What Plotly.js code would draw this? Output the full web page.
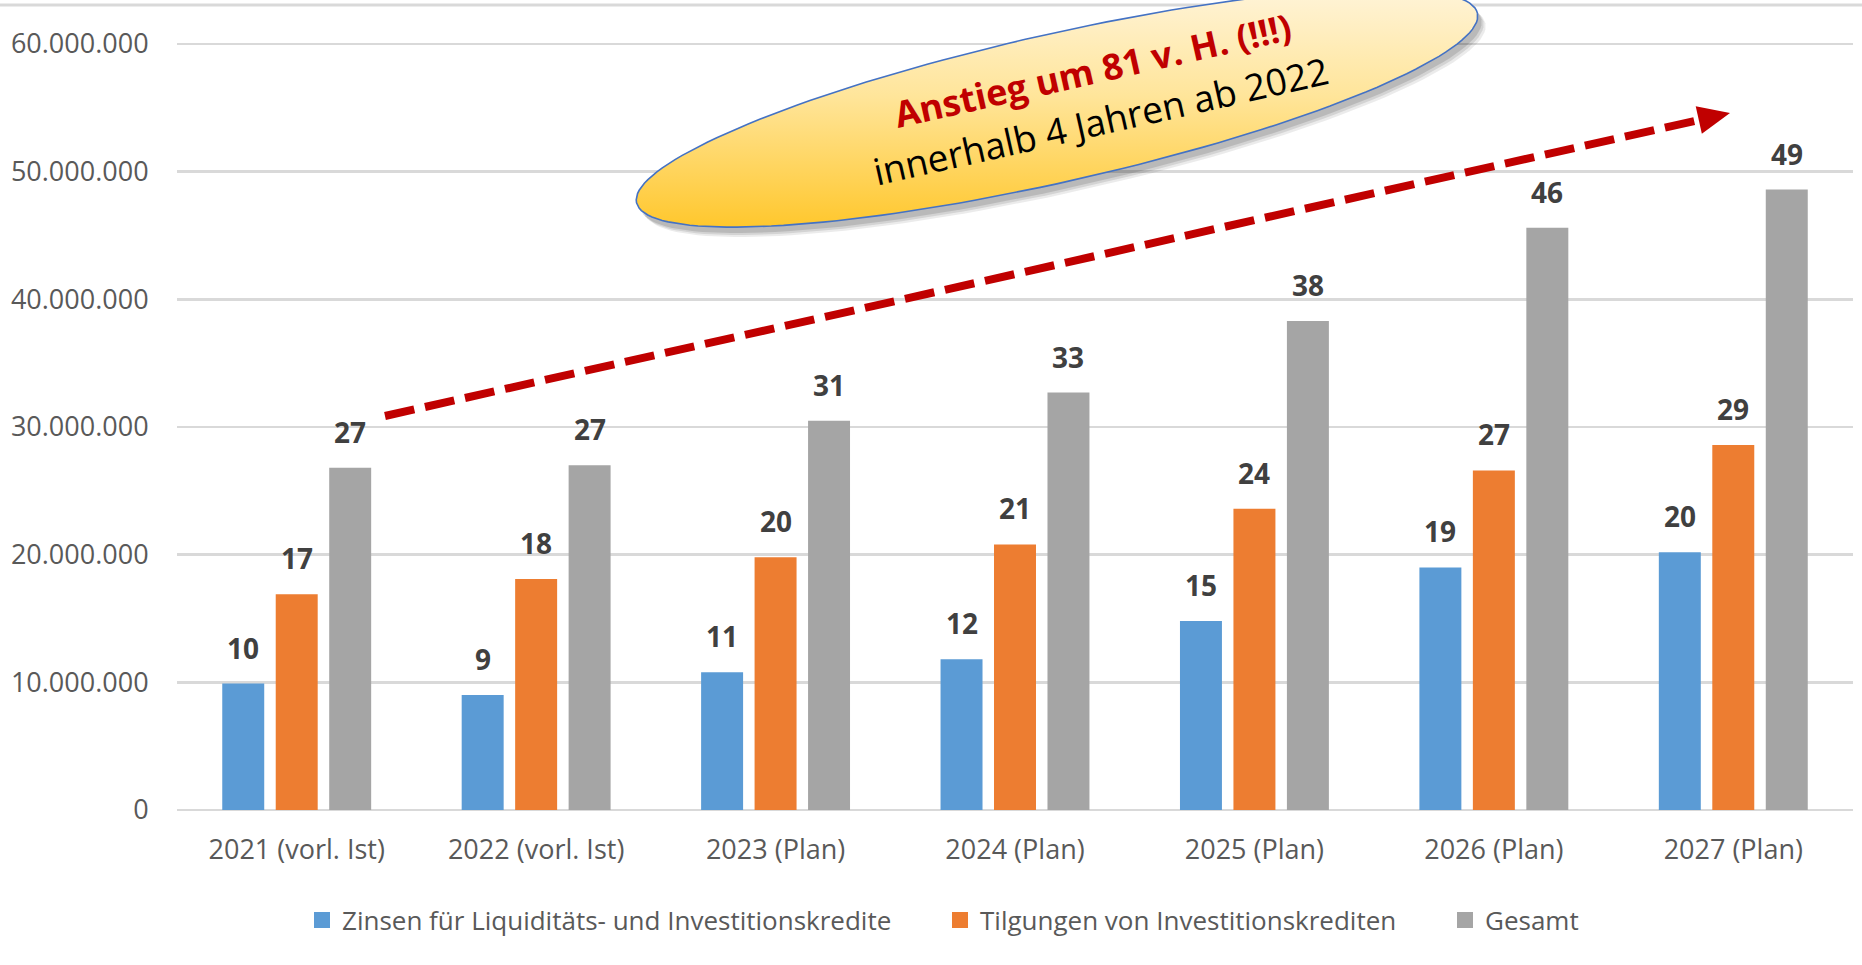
<!DOCTYPE html>
<html><head><meta charset="utf-8">
<script src="https://cdn.plot.ly/plotly-3.0.1.min.js"></script>
<style>html,body{margin:0;padding:0;background:#fff;overflow:hidden}</style>
</head><body><div id="chart" style="width:1862px;height:965px"></div>
<script>
// ---------- data ----------
const categories = ['2021 (vorl. Ist)', '2022 (vorl. Ist)', '2023 (Plan)', '2024 (Plan)', '2025 (Plan)', '2026 (Plan)', '2027 (Plan)'];
const seriesNames = ['Zinsen für Liquiditäts- und Investitionskredite', 'Tilgungen von Investitionskrediten', 'Gesamt'];
const zinsen    = [9900000, 9000000, 10800000, 11800000, 14800000, 19000000, 20200000];
const tilgungen = [16900000, 18100000, 19800000, 20800000, 23600000, 26600000, 28600000];
const gesamt    = [26800000, 27000000, 30500000, 32700000, 38300000, 45600000, 48600000];
const yTickValues = [0, 10000000, 20000000, 30000000, 40000000, 50000000, 60000000];
const calloutLine1 = 'Anstieg um 81 v. H. (!!!)';
const calloutLine2 = 'innerhalb 4 Jahren ab 2022';

// ---------- style / layout constants ----------
const W = 1862, H = 965;
const M = {l: 177, r: 9, t: 0, b: 155};
const PW = W - M.l - M.r, PH = H - M.t - M.b;
const colors = ['#5b9bd5', '#ed7d31', '#a5a5a5'];
const FONT = 'Open Sans';
const BARGAP = 0.33, BARGROUPGAP = 0.215;
const series = [zinsen, tilgungen, gesamt];
const legendIds = ['legend', 'legend2', 'legend3'];

// bars
const traces = series.map((vals, s) => ({
  type: 'bar', x: categories, y: vals, name: seriesNames[s],
  marker: {color: colors[s]}, hoverinfo: 'skip', showlegend: false
}));
// legend entries (square swatches like the original)
series.forEach((vals, s) => traces.push({
  type: 'scatter', mode: 'markers', x: [null], y: [null], name: seriesNames[s],
  marker: {color: colors[s], symbol: 'square', size: 16}, legend: legendIds[s],
  showlegend: true, hoverinfo: 'skip'
}));

// pixel-space overlay helpers (x2/y2 map 1:1 to page pixels)
function ellipsePts(cx, cy, a, b, deg) {
  const t = deg * Math.PI / 180, xs = [], ys = [];
  for (let i = 0; i <= 160; i++) {
    const p = 2 * Math.PI * i / 160;
    const ex = a * Math.cos(p), ey = b * Math.sin(p);
    xs.push(cx + ex * Math.cos(t) + ey * Math.sin(t));
    ys.push(cy - ex * Math.sin(t) + ey * Math.cos(t));
  }
  return {xs, ys};
}
const ELL = {cx: 1057, cy: 108, a: 431, b: 74, ang: 12.7};
[[8, 10, 0.08], [6, 8, 0.10], [4, 6, 0.12]].forEach(([dx, dy, op]) => {
  const e = ellipsePts(ELL.cx + dx, ELL.cy + dy, ELL.a, ELL.b, ELL.ang);
  traces.push({type: 'scatter', mode: 'lines', x: e.xs, y: e.ys, xaxis: 'x2', yaxis: 'y2',
    fill: 'toself', fillcolor: 'rgba(0,0,0,' + op + ')', line: {width: 0},
    showlegend: false, hoverinfo: 'skip'});
});
const e0 = ellipsePts(ELL.cx, ELL.cy, ELL.a, ELL.b, ELL.ang);
traces.push({type: 'scatter', mode: 'lines', x: e0.xs, y: e0.ys, xaxis: 'x2', yaxis: 'y2',
  fill: 'toself',
  fillgradient: {type: 'vertical', start: ELL.cy - 120, stop: ELL.cy + 120,
    colorscale: [[0, '#fff4d9'], [0.45, '#ffe59a'], [1, '#ffc72c']]},
  line: {color: '#4472c4', width: 1.6},
  showlegend: false, hoverinfo: 'skip'});

// arrow geometry (pixels)
const A0 = [385, 416], TIP = [1730, 113];
const len = Math.hypot(TIP[0] - A0[0], TIP[1] - A0[1]);
const d = [(TIP[0] - A0[0]) / len, (TIP[1] - A0[1]) / len];
const nrm = [-d[1], d[0]];
const HL = 32, HW = 14;
const base = [TIP[0] - HL * d[0], TIP[1] - HL * d[1]];
const b1 = [base[0] + HW * nrm[0], base[1] + HW * nrm[1]];
const b2 = [base[0] - HW * nrm[0], base[1] - HW * nrm[1]];

const shapes = [
  {type: 'line', xref: 'paper', yref: 'paper', x0: -M.l / PW, x1: 1 + M.r / PW, y0: 1 - 5 / PH, y1: 1 - 5 / PH,
   line: {color: '#d9d9d9', width: 3}, layer: 'below'},
  {type: 'line', xref: 'x2', yref: 'y2', x0: A0[0], y0: A0[1], x1: base[0], y1: base[1],
   line: {color: '#c00000', width: 8, dash: '30px,11px'}},
  {type: 'path', xref: 'x2', yref: 'y2',
   path: `M${TIP[0]},${TIP[1]} L${b1[0]},${b1[1]} L${b2[0]},${b2[1]} Z`,
   fillcolor: '#c00000', line: {width: 0}}
];

// data labels
const slot = (1 - BARGAP) / 3;
const annotations = [];
series.forEach((vals, s) => vals.forEach((v, i) => {
  annotations.push({x: i + (s - 1) * slot, y: v, xref: 'x', yref: 'y',
    text: String(Math.round(v / 1e6)), showarrow: false, yanchor: 'bottom', yshift: 15,
    font: {family: FONT, size: 28, color: '#404040', weight: 700}});
}));
annotations.push({x: 1092, y: 70, xref: 'x2', yref: 'y2', text: calloutLine1, showarrow: false,
  textangle: -ELL.ang, font: {family: FONT, size: 36, color: '#c00000', weight: 700}});
annotations.push({x: 1100, y: 120, xref: 'x2', yref: 'y2', text: calloutLine2, showarrow: false,
  textangle: -ELL.ang, font: {family: FONT, size: 37, color: '#000000'}});

const legendBase = {orientation: 'h', xref: 'container', yref: 'container', xanchor: 'left', yanchor: 'middle',
  y: 1 - 920 / H, font: {family: FONT, size: 26, color: '#595959'}, bgcolor: 'rgba(0,0,0,0)'};

const layout = {
  width: W, height: H, margin: M,
  paper_bgcolor: '#ffffff', plot_bgcolor: '#ffffff',
  separators: ',.',
  barmode: 'group', bargap: BARGAP, bargroupgap: BARGROUPGAP,
  font: {family: FONT, color: '#595959'},
  showlegend: true,
  legend:  Object.assign({}, legendBase, {x: 302 / W}),
  legend2: Object.assign({}, legendBase, {x: 940 / W}),
  legend3: Object.assign({}, legendBase, {x: 1445 / W}),
  xaxis: {type: 'category', showgrid: false, showline: false, zeroline: false,
    ticks: 'outside', ticklen: 16, tickcolor: 'rgba(0,0,0,0)',
    tickfont: {family: FONT, size: 27, color: '#595959'}, fixedrange: true},
  yaxis: {range: [0, 63450000], tickvals: yTickValues, tickformat: ',d',
    showgrid: true, gridcolor: '#d9d9d9', gridwidth: 2.5,
    zeroline: true, zerolinecolor: '#d9d9d9', zerolinewidth: 2.5, showline: false,
    ticks: 'outside', ticklen: 22, tickcolor: 'rgba(0,0,0,0)',
    tickfont: {family: FONT, size: 27, color: '#595959'}, fixedrange: true},
  xaxis2: {overlaying: 'x', range: [M.l, W - M.r], visible: false, fixedrange: true},
  yaxis2: {overlaying: 'y', range: [H - M.b, M.t], visible: false, fixedrange: true},
  shapes: shapes,
  annotations: annotations
};

Plotly.newPlot('chart', traces, layout, {staticPlot: true, displayModeBar: false});
</script>
</body></html>
